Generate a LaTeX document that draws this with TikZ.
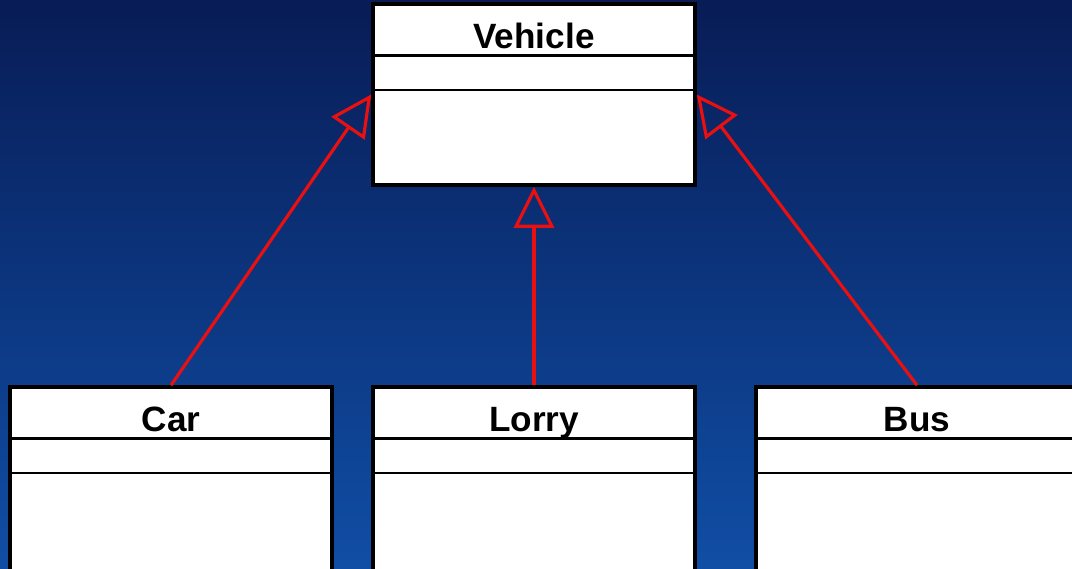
\documentclass[tikz,border=0pt]{standalone}
\usepackage{fontspec}
\setmainfont{Liberation Sans}
\usetikzlibrary{arrows.meta}

\definecolor{bgtop}{RGB}{8,28,86}
\definecolor{bgbottom}{RGB}{16,78,165}
\definecolor{umlred}{RGB}{235,16,16}

\tikzset{
  classbox/.style={draw=black, fill=white, line width=2pt,
    minimum width=6.44cm, inner sep=0pt},
  classname/.style={anchor=base, font=\fontsize{20}{24}\selectfont\bfseries},
  inherit/.style={draw=umlred, line width=1.8pt,
    -{Triangle[open, length=0.82cm, width=0.8cm]}}
}

\begin{document}
\begin{tikzpicture}
        % Background
        \useasboundingbox (0,0) rectangle (21.44,11.36);
        \clip (0,0) rectangle (21.44,11.36);
        \shade[top color=bgtop, bottom color=bgbottom] (0,0) rectangle (21.44,11.36);
        % Classes
        \node[classbox, minimum height=3.62cm] (vehicle) at (10.68,9.47) {};
        \node[classbox, minimum height=4cm] (car) at (3.42,1.62) {};
        \node[classbox, minimum height=4cm] (lorry) at (10.68,1.62) {};
        \node[classbox, minimum height=4cm] (bus) at (18.34,1.62) {};
        % Compartments
        \foreach \c/\t in {vehicle/Vehicle, car/Car, lorry/Lorry, bus/Bus} {
                \node[classname] (\c-name) at ([yshift=-0.92cm]\c.north) {\t};
                \draw[line width=1.9pt] ([yshift=-1.06cm]\c.north west) -- ([yshift=-1.06cm]\c.north east);
                \draw[line width=1.2pt] ([yshift=-1.76cm]\c.north west) -- ([yshift=-1.76cm]\c.north east);
        }
        % Generalisation
        \draw[inherit] (car.north) -- (vehicle.west);
        \draw[inherit] (lorry.north) -- (vehicle.south);
        \draw[inherit] (bus.north) -- (vehicle.east);
\end{tikzpicture}
\end{document}
